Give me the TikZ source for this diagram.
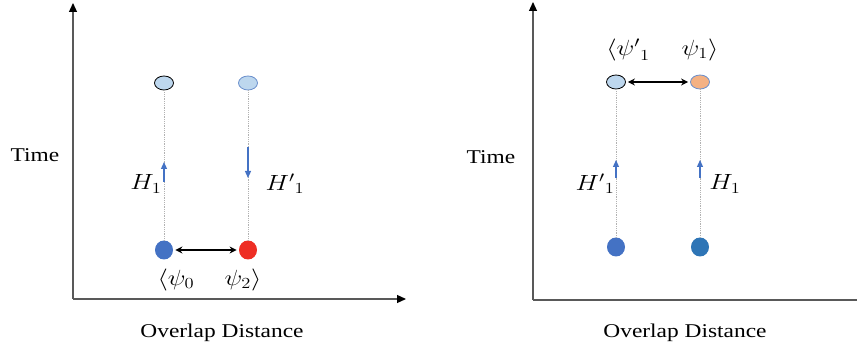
\RequirePackage{fix-cm}
\documentclass[tikz,border=0pt]{standalone}
\usepackage{graphicx}
\usepackage{fontspec}
\setmainfont{Liberation Serif}
\usetikzlibrary{shapes.geometric,arrows.meta}
\definecolor{lb}{HTML}{BDD7EE}
\definecolor{db}{HTML}{4472C4}
\definecolor{rd}{HTML}{EE2E24}
\definecolor{org}{HTML}{F4B183}
\definecolor{mb}{HTML}{2E75B6}
\definecolor{ax}{HTML}{595959}
\definecolor{ol}{HTML}{6A8FCC}
\newcommand{\wideTxt}[1]{\scalebox{1.2}[1]{#1}}
\begin{document}
\begin{tikzpicture}[x=1pt,y=-1pt,
  ball/.style={ellipse, inner sep=0pt, line width=0.8pt},
  topball/.style={ball, minimum width=19pt, minimum height=14pt},
  botball/.style={ball, minimum width=18pt, minimum height=19pt},
  axisline/.style={draw=ax, line width=1.2pt},
  axisarrow/.style={axisline, -{Triangle[length=9pt,width=8pt,color=black]}},
  guide/.style={draw=gray!60, line width=0.6pt, dash pattern=on 1pt off 0.8pt},
  flow/.style={draw=db, line width=1.2pt, -{Triangle[length=7pt,width=6pt]}},
  link/.style={draw=black, line width=2pt, {Stealth[length=7pt,width=7pt]}-{Stealth[length=7pt,width=7pt]}, shorten >=2pt, shorten <=2pt},
  lbl/.style={font=\fontsize{19.5}{22}\selectfont, inner sep=0pt},
  mlbl/.style={font=\fontsize{22}{25}\selectfont, inner sep=0pt}
]
\useasboundingbox (0,0) rectangle (857,352);
% axes
\coordinate (o1) at (73,299); \coordinate (y1) at (73,3); \coordinate (x1) at (406,299);
\draw[axisarrow] (o1) -- (y1);
\draw[axisarrow] (o1) -- (x1);
\coordinate (o2) at (533,300); \coordinate (y2) at (533,2); \coordinate (x2) at (857,300);
\draw[axisarrow] (o2) -- (y2);
\draw[axisline] (o2) -- (x2);
% axis labels
\node[lbl] (t1) at (35,155) {\wideTxt{Time}};
\node[lbl] (t2) at (491,157) {\wideTxt{Time}};
\node[lbl] (d1) at (222,333) {\wideTxt{Overlap Distance}};
\node[lbl] (d2) at (685,333) {\wideTxt{Overlap Distance}};
% left panel
\node[topball, fill=lb, draw=black] (a) at (164,83) {};
\node[topball, fill=lb, draw=ol] (b) at (248,83) {};
\node[botball, fill=db] (c) at (164,250) {};
\node[botball, fill=rd] (d) at (248,250) {};
\draw[guide] (a) -- (c);
\draw[guide] (b) -- (d);
\coordinate (p1) at (164,182); \coordinate (p2) at (164,162);
\coordinate (q1) at (248,147); \coordinate (q2) at (248,178);
\draw[flow] (p1) -- (p2);
\draw[flow] (q1) -- (q2);
\draw[link] (c) -- (d);
\node[mlbl] (h1) at (146,184) {\wideTxt{$H_1$}};
\node[mlbl] (h2) at (285,184) {\wideTxt{${H'}_1$}};
\node[mlbl] (s0) at (176,280) {\wideTxt{$\langle\psi_0$}};
\node[mlbl] (s2) at (243,280) {\wideTxt{$\psi_2\rangle$}};
% right panel
\node[topball, fill=lb, draw=black] (e) at (616,82) {};
\node[topball, fill=org, draw=ol] (f) at (700,82) {};
\node[botball, fill=db] (g) at (616,247) {};
\node[botball, fill=mb] (h) at (700,247) {};
\draw[guide] (e) -- (g);
\draw[guide] (f) -- (h);
\coordinate (r1) at (616,178); \coordinate (r2) at (616,160);
\coordinate (u1) at (700,178); \coordinate (u2) at (700,160);
\draw[flow] (r1) -- (r2);
\draw[flow] (u1) -- (u2);
\draw[link] (e) -- (f);
\node[mlbl] (h3) at (595,184) {\wideTxt{${H'}_1$}};
\node[mlbl] (h4) at (725,184) {\wideTxt{$H_1$}};
\node[mlbl] (s3) at (628,50) {\wideTxt{$\langle{\psi'}_1$}};
\node[mlbl] (s4) at (700,50) {\wideTxt{$\psi_1\rangle$}};
\end{tikzpicture}
\end{document}
